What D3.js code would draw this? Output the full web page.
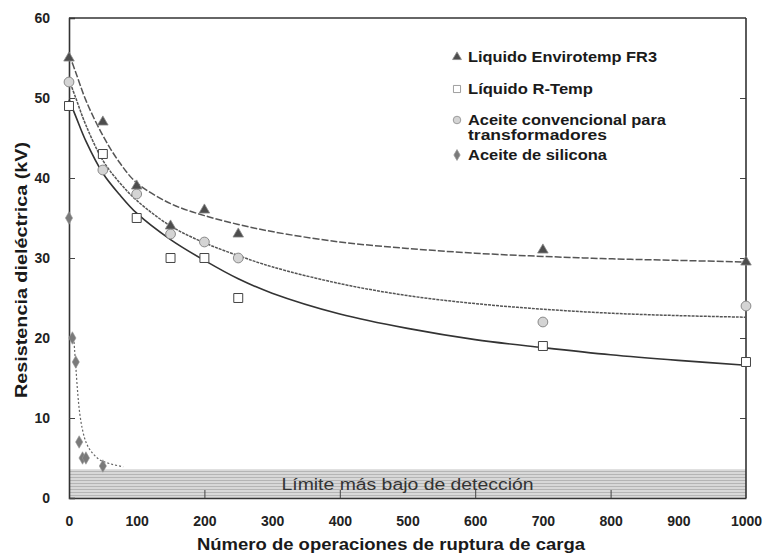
<!DOCTYPE html>
<html><head><meta charset="utf-8">
<script src="https://cdn.jsdelivr.net/npm/d3@7"></script>
<style>
body{margin:0;background:#fff}
svg{display:block}
text{font-family:"Liberation Sans",Arial,Helvetica,sans-serif}
</style>
</head><body>
<svg id="chart" width="765" height="556"></svg>
<script>
// ---------- data ----------
const legendLabels = ["Liquido Envirotemp FR3", "Líquido R-Temp", ["Aceite convencional para", "transformadores"], "Aceite de silicona"];

const xFR3 = [0, 50, 100, 150, 200, 250, 700, 1000];
const yFR3 = [55, 47, 39, 34, 36, 33, 31, 29.5];

const xRTemp = [0, 50, 100, 150, 200, 250, 700, 1000];
const yRTemp = [49, 43, 35, 30, 30, 25, 19, 17];

const xConv = [0, 50, 100, 150, 200, 250, 700, 1000];
const yConv = [52, 41, 38, 33, 32, 30, 22, 24];

const xSil = [0, 5, 10, 15, 20, 25, 50];
const ySil = [35, 20, 17, 7, 5, 5, 4];

// fitted trend curves
const fitX      = [0, 10, 25, 50, 75, 100, 150, 200, 250, 300, 400, 500, 600, 700, 800, 900, 1000];
const fitFR3    = [55.5, 53.2, 49.7, 45.3, 41.9, 39.4, 36.8, 35.3, 34.2, 33.3, 32.0, 31.2, 30.6, 30.2, 29.9, 29.7, 29.5];
const fitConv   = [52.3, 50.0, 46.6, 42.2, 39.4, 37.2, 34.0, 31.9, 30.3, 28.9, 26.8, 25.3, 24.3, 23.6, 23.1, 22.8, 22.6];
const fitRTemp  = [49.8, 47.7, 44.6, 40.6, 37.9, 35.6, 32.3, 29.7, 27.4, 25.6, 23.0, 21.2, 19.8, 18.8, 17.9, 17.2, 16.6];
const fitSilX   = [7, 10, 13, 16, 20, 25, 32, 45, 60, 80];
const fitSilY   = [20, 16.5, 13, 10.5, 8.5, 7.0, 5.9, 4.8, 4.3, 3.9];

const xTicks = [0, 100, 200, 300, 400, 500, 600, 700, 800, 900, 1000];
const xMarkTicks = [200, 400, 600, 800];
const yTicks = [0, 10, 20, 30, 40, 50, 60];

const detectionLimit = 3.6;
const bandLabel = "Límite más bajo de detección";
const xTitle = "Número de operaciones de ruptura de carga";
const yTitle = "Resistencia dieléctrica (kV)";

// ---------- layout ----------
const svg = d3.select("#chart");
const x = d3.scaleLinear().domain([0, 1000]).range([69, 746]);
const y = d3.scaleLinear().domain([0, 60]).range([498, 18]);

const defs = svg.append("defs");
const pat = defs.append("pattern").attr("id", "band").attr("patternUnits", "userSpaceOnUse")
  .attr("width", 6).attr("height", 3);
pat.append("rect").attr("width", 6).attr("height", 3).attr("fill", "#d8d8d8");
pat.append("rect").attr("y", 0).attr("width", 6).attr("height", 1).attr("fill", "#b5b5b5");

// detection band
svg.append("rect")
  .attr("x", x(0)).attr("y", y(detectionLimit))
  .attr("width", x(1000) - x(0)).attr("height", y(0) - y(detectionLimit))
  .attr("fill", "url(#band)");
svg.append("text").attr("x", x(500)).attr("y", y(detectionLimit / 2) + 6)
  .attr("text-anchor", "middle").attr("font-size", 16).attr("fill", "#333")
  .attr("textLength", 252).attr("lengthAdjust", "spacingAndGlyphs")
  .text(bandLabel);

// axes
const gx = svg.append("g").attr("transform", `translate(0,${y(0)})`)
  .call(d3.axisBottom(x).tickValues(xTicks).tickSize(0).tickPadding(18).tickFormat(d3.format("d")));
gx.selectAll("text").attr("font-size", 14).attr("font-weight", "bold").attr("fill", "#222");
gx.select(".domain").attr("stroke", "#333").attr("stroke-width", 1.6);

const gxm = svg.append("g").attr("transform", `translate(0,${y(0)})`)
  .call(d3.axisBottom(x).tickValues(xMarkTicks).tickSize(-8).tickFormat(""));
gxm.select(".domain").remove();
gxm.selectAll("line").attr("stroke", "#444");

const gy = svg.append("g").attr("transform", `translate(${x(0)},0)`)
  .call(d3.axisLeft(y).tickValues(yTicks).tickSize(-6).tickPadding(19).tickFormat(d3.format("d")));
gy.selectAll("text").attr("font-size", 14).attr("font-weight", "bold").attr("fill", "#222");
gy.select(".domain").attr("stroke", "#333").attr("stroke-width", 1.6);
gy.selectAll("line").attr("stroke", "#444");

const gyr = svg.append("g").attr("transform", `translate(${x(1000)},0)`)
  .call(d3.axisRight(y).tickValues(yTicks.slice(1, -1)).tickSize(-6).tickFormat(""));
gyr.select(".domain").remove();
gyr.selectAll("line").attr("stroke", "#444");

// frame top / right
svg.append("line").attr("x1", x(0)).attr("x2", x(1000)).attr("y1", y(60)).attr("y2", y(60))
  .attr("stroke", "#333").attr("stroke-width", 1.6);
svg.append("line").attr("x1", x(1000)).attr("x2", x(1000)).attr("y1", y(60)).attr("y2", y(0))
  .attr("stroke", "#333").attr("stroke-width", 1.6);

// axis titles
svg.append("text").attr("x", 391).attr("y", 550).attr("text-anchor", "middle")
  .attr("font-size", 17).attr("font-weight", "bold").attr("fill", "#1a1a1a")
  .attr("textLength", 388).attr("lengthAdjust", "spacingAndGlyphs").text(xTitle);
svg.append("text").attr("transform", "translate(27,270) rotate(-90)").attr("text-anchor", "middle")
  .attr("font-size", 16).attr("font-weight", "bold").attr("fill", "#1a1a1a")
  .attr("textLength", 256).attr("lengthAdjust", "spacingAndGlyphs").text(yTitle);

// fit curves
const line = d3.line().x(d => x(d[0])).y(d => y(d[1])).curve(d3.curveCatmullRom.alpha(0.5));
function drawFit(xs, ys, stroke, width, dash) {
  svg.append("path").datum(xs.map((v, i) => [v, ys[i]]))
    .attr("d", line).attr("fill", "none").attr("stroke", stroke)
    .attr("stroke-width", width).attr("stroke-dasharray", dash);
}
drawFit(fitX, fitFR3, "#555", 1.5, "7,2");
drawFit(fitX, fitConv, "#555", 1.5, "3,1");
drawFit(fitX, fitRTemp, "#333", 1.6, null);
drawFit(fitSilX, fitSilY, "#666", 1.2, "2,2");

// markers
const sym = {
  tri: d3.symbol().type(d3.symbolTriangle).size(48),
  sq: d3.symbol().type(d3.symbolSquare).size(80),
  circ: d3.symbol().type(d3.symbolCircle).size(75),
  dia: d3.symbol().type(d3.symbolDiamond).size(45)
};
const styles = {
  tri: {fill: "#4d4d4d", stroke: "#888", sw: 0.8},
  sq: {fill: "#fff", stroke: "#444", sw: 1},
  circ: {fill: "#d4d4d4", stroke: "#8a8a8a", sw: 1},
  dia: {fill: "#7a7a7a", stroke: "#999", sw: 0.6}
};
function drawPts(xs, ys, key) {
  svg.append("g").selectAll("path").data(xs.map((v, i) => [v, ys[i]])).join("path")
    .attr("transform", d => `translate(${x(d[0])},${y(d[1])})`)
    .attr("d", sym[key]).attr("fill", styles[key].fill)
    .attr("stroke", styles[key].stroke).attr("stroke-width", styles[key].sw);
}
drawPts(xRTemp, yRTemp, "sq");
drawPts(xConv, yConv, "circ");
drawPts(xFR3, yFR3, "tri");
drawPts(xSil, ySil, "dia");

// legend
const legSym = {
  tri: d3.symbol().type(d3.symbolTriangle).size(34),
  sq: d3.symbol().type(d3.symbolSquare).size(50),
  circ: d3.symbol().type(d3.symbolCircle).size(45),
  dia: d3.symbol().type(d3.symbolDiamond).size(34)
};
const legItems = [
  {key: "tri", y: 57, lines: [legendLabels[0]], w: [189]},
  {key: "sq", y: 89, lines: [legendLabels[1]], w: [125]},
  {key: "circ", y: 120, lines: legendLabels[2], w: [198, 139]},
  {key: "dia", y: 155, lines: [legendLabels[3]], w: [139]}
];
const lg = svg.append("g");
legItems.forEach(it => {
  lg.append("path").attr("transform", `translate(457,${it.y})`).attr("d", legSym[it.key])
    .attr("fill", it.key === "sq" ? "#fff" : styles[it.key].fill)
    .attr("stroke", it.key === "sq" ? "#888" : styles[it.key].stroke).attr("stroke-width", 0.8);
  it.lines.forEach((t, j) => {
    lg.append("text").attr("x", 468).attr("y", it.y + 5 + j * 15)
      .attr("font-size", 14).attr("font-weight", "bold").attr("fill", "#1a1a1a")
      .attr("textLength", it.w[j]).attr("lengthAdjust", "spacingAndGlyphs").text(t);
  });
});
</script>
</body></html>
